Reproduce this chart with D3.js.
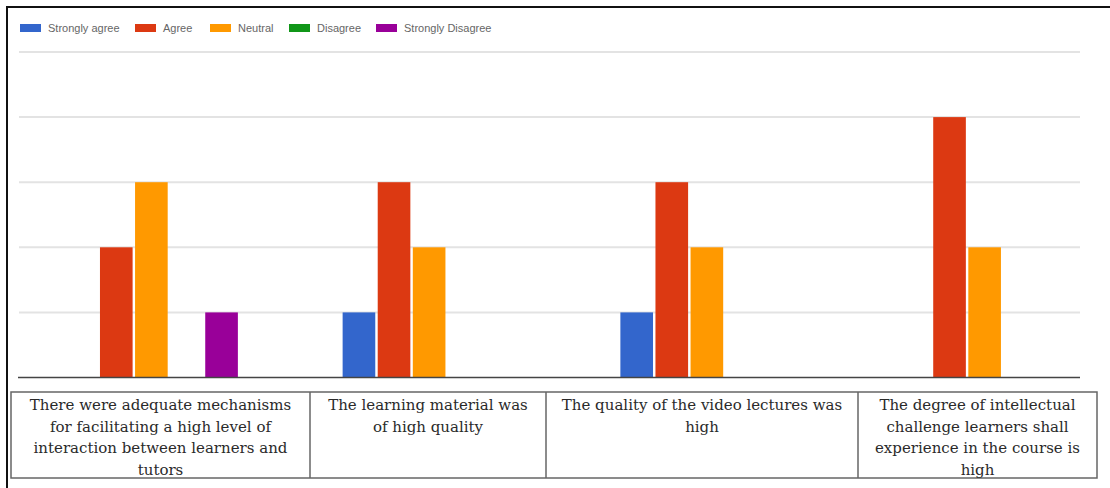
<!DOCTYPE html>
<html><head><meta charset="utf-8">
<script src="https://cdn.jsdelivr.net/npm/d3@7"></script>
<style>html,body{margin:0;padding:0;background:#fff;}svg{display:block;}</style>
</head><body>
<svg id="c" width="1110" height="488"></svg>
<script>
const categories = [
  "There were adequate mechanisms for facilitating a high level of interaction between learners and tutors",
  "The learning material was of high quality",
  "The quality of the video lectures was high",
  "The degree of intellectual challenge learners shall experience in the course is high"
];
const categoryLines = [
  ["There were adequate mechanisms", "for facilitating a high level of", "interaction between learners and", "tutors"],
  ["The learning material was", "of high quality"],
  ["The quality of the video lectures was", "high"],
  ["The degree of intellectual", "challenge learners shall", "experience in the course is", "high"]
];
const seriesNames = ["Strongly agree", "Agree", "Neutral", "Disagree", "Strongly Disagree"];
const stronglyAgree = [0, 1, 1, 0];
const agree = [2, 3, 3, 4];
const neutral = [3, 2, 2, 2];
const disagree = [0, 0, 0, 0];
const stronglyDisagree = [1, 0, 0, 0];
const yTicks = [1, 2, 3, 4, 5];
const colors = ["#3366cc", "#dc3912", "#ff9900", "#109618", "#990099"];

const seriesValues = [stronglyAgree, agree, neutral, disagree, stronglyDisagree];
const svg = d3.select("#c");

// outer frame lines
svg.append("line").attr("x1", 6).attr("x2", 1110).attr("y1", 7).attr("y2", 7).attr("stroke", "#111").attr("stroke-width", 2);
svg.append("line").attr("x1", 7).attr("x2", 7).attr("y1", 6).attr("y2", 488).attr("stroke", "#111").attr("stroke-width", 2);

const y = d3.scaleLinear().domain([0, 5]).range([377.5, 52]);
const x0 = d3.scaleBand().domain(d3.range(categories.length)).range([12.5, 1123.5]).padding(0);
const x1 = d3.scaleBand().domain(d3.range(seriesNames.length)).range([-86.5, 86.5]).paddingInner(0.07).paddingOuter(0);

// gridlines
svg.append("g").selectAll("line").data(yTicks).join("line")
  .attr("x1", 19).attr("x2", 1080)
  .attr("y1", d => y(d)).attr("y2", d => y(d))
  .attr("stroke", "#e3e3e3").attr("stroke-width", 2);

// bars
const groups = svg.append("g").selectAll("g").data(categories).join("g")
  .attr("transform", (d, i) => `translate(${x0(i) + x0.bandwidth() / 2},0)`);
groups.selectAll("rect")
  .data((d, i) => seriesValues.map((s, j) => ({ j, v: s[i] })).filter(e => e.v > 0))
  .join("rect")
  .attr("x", e => x1(e.j))
  .attr("width", x1.bandwidth())
  .attr("y", e => y(e.v))
  .attr("height", e => y(0) - y(e.v))
  .attr("fill", e => colors[e.j]);

// baseline
svg.append("line").attr("x1", 18).attr("x2", 1080).attr("y1", y(0)).attr("y2", y(0)).attr("stroke", "#444").attr("stroke-width", 1.5);

// legend
const legendX = [20, 135, 210, 289, 376];
const lg = svg.append("g").selectAll("g").data(seriesNames).join("g")
  .attr("transform", (d, i) => `translate(${legendX[i]},24)`);
lg.append("rect").attr("width", 21).attr("height", 8).attr("fill", (d, i) => colors[i]);
lg.append("text").attr("x", 28).attr("y", 8).text(d => d)
  .attr("font-family", "Arial, 'Liberation Sans', sans-serif").attr("font-size", 11).attr("fill", "#666");

// table of category labels
const colEdges = [11, 310, 546, 858, 1097];
const tTop = 392, tBot = 478;
const tbl = svg.append("g");
tbl.append("rect").attr("x", colEdges[0]).attr("y", tTop).attr("width", colEdges[4] - colEdges[0]).attr("height", tBot - tTop)
  .attr("fill", "none").attr("stroke", "#666").attr("stroke-width", 1.5);
tbl.selectAll("line.div").data(colEdges.slice(1, 4)).join("line").attr("class", "div")
  .attr("x1", d => d).attr("x2", d => d).attr("y1", tTop).attr("y2", tBot)
  .attr("stroke", "#666").attr("stroke-width", 1.5);
const cells = tbl.selectAll("text").data(categoryLines).join("text")
  .attr("font-family", "'DejaVu Serif', serif").attr("font-size", 15).attr("fill", "#2a2a2a")
  .attr("text-anchor", "middle");
cells.selectAll("tspan").data((d, i) => d.map(l => ({ l, i }))).join("tspan")
  .attr("x", d => (colEdges[d.i] + colEdges[d.i + 1]) / 2)
  .attr("y", (d, k) => 410 + k * 21.7)
  .text(d => d.l);
</script>
</body></html>
